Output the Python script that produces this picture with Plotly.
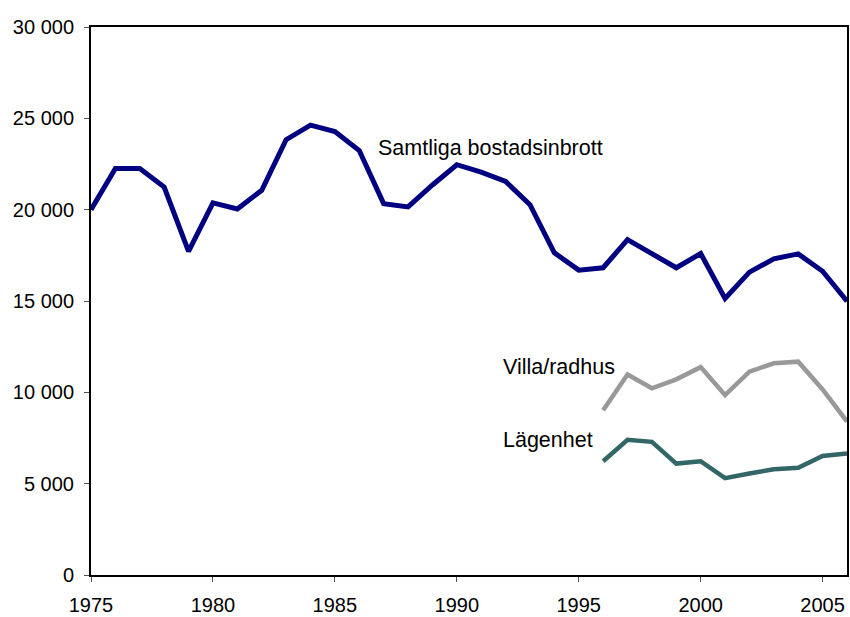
import plotly.graph_objects as go

years_all = list(range(1975, 2007))
samtliga = [20000, 22250, 22250, 21240, 17720, 20370, 20040, 21060, 23830, 24630,
            24280, 23240, 20330, 20150, 21350, 22460, 22060, 21550, 20270, 17640,
            16690, 16820, 18360, 17580, 16820, 17600, 15140, 16580, 17310, 17580,
            16630, 14990]
years_sub = list(range(1996, 2007))
villa = [9020, 10980, 10220, 10710, 11380, 9850, 11130, 11590, 11680, 10160, 8400]
lagenhet = [6230, 7400, 7290, 6100, 6230, 5300, 5560, 5790, 5870, 6520, 6650]

labels = ["Samtliga bostadsinbrott", "Villa/radhus", "Lägenhet"]
x_ticks = [1975, 1980, 1985, 1990, 1995, 2000, 2005]
y_ticks = [0, 5000, 10000, 15000, 20000, 25000, 30000]

font = "Liberation Sans, Arial, sans-serif"

fig = go.Figure()
fig.add_trace(go.Scatter(x=years_all, y=samtliga, mode="lines",
                         line=dict(color="#000080", width=5), name=labels[0]))
fig.add_trace(go.Scatter(x=years_sub, y=villa, mode="lines",
                         line=dict(color="#999999", width=4.5), name=labels[1]))
fig.add_trace(go.Scatter(x=years_sub, y=lagenhet, mode="lines",
                         line=dict(color="#336666", width=4.5), name=labels[2]))

ann_pos = [(1986.7, 23390), (1991.8, 11370), (1991.8, 7380)]
for lab, (ax, ay) in zip(labels, ann_pos):
    fig.add_annotation(x=ax, y=ay, text=lab, showarrow=False, xanchor="left",
                       yanchor="middle", font=dict(size=21.5, color="#000000", family=font))

fig.update_layout(
    width=850, height=617,
    margin=dict(l=91, r=1, t=27, b=41),
    paper_bgcolor="white", plot_bgcolor="white",
    showlegend=False,
    separators=". ",
    font=dict(family=font, size=20, color="#000000"),
    xaxis=dict(range=[1975, 2006], tickvals=x_ticks, tickformat="d",
               showgrid=False, zeroline=False, showline=True, linecolor="#000000",
               linewidth=2, mirror=True, ticks="outside", ticklen=5,
               tickcolor="#555555", tickwidth=1, ticklabelstandoff=6),
    yaxis=dict(range=[0, 30000], tickvals=y_ticks, tickformat=",d",
               showgrid=False, zeroline=False, showline=True, linecolor="#000000",
               linewidth=2, mirror=True, ticks="outside", ticklen=5,
               tickcolor="#555555", tickwidth=1, ticklabelstandoff=6),
)
fig.write_html("out.html", config={"displayModeBar": False},
               post_script="document.body.style.margin='0';document.body.style.padding='0';")
